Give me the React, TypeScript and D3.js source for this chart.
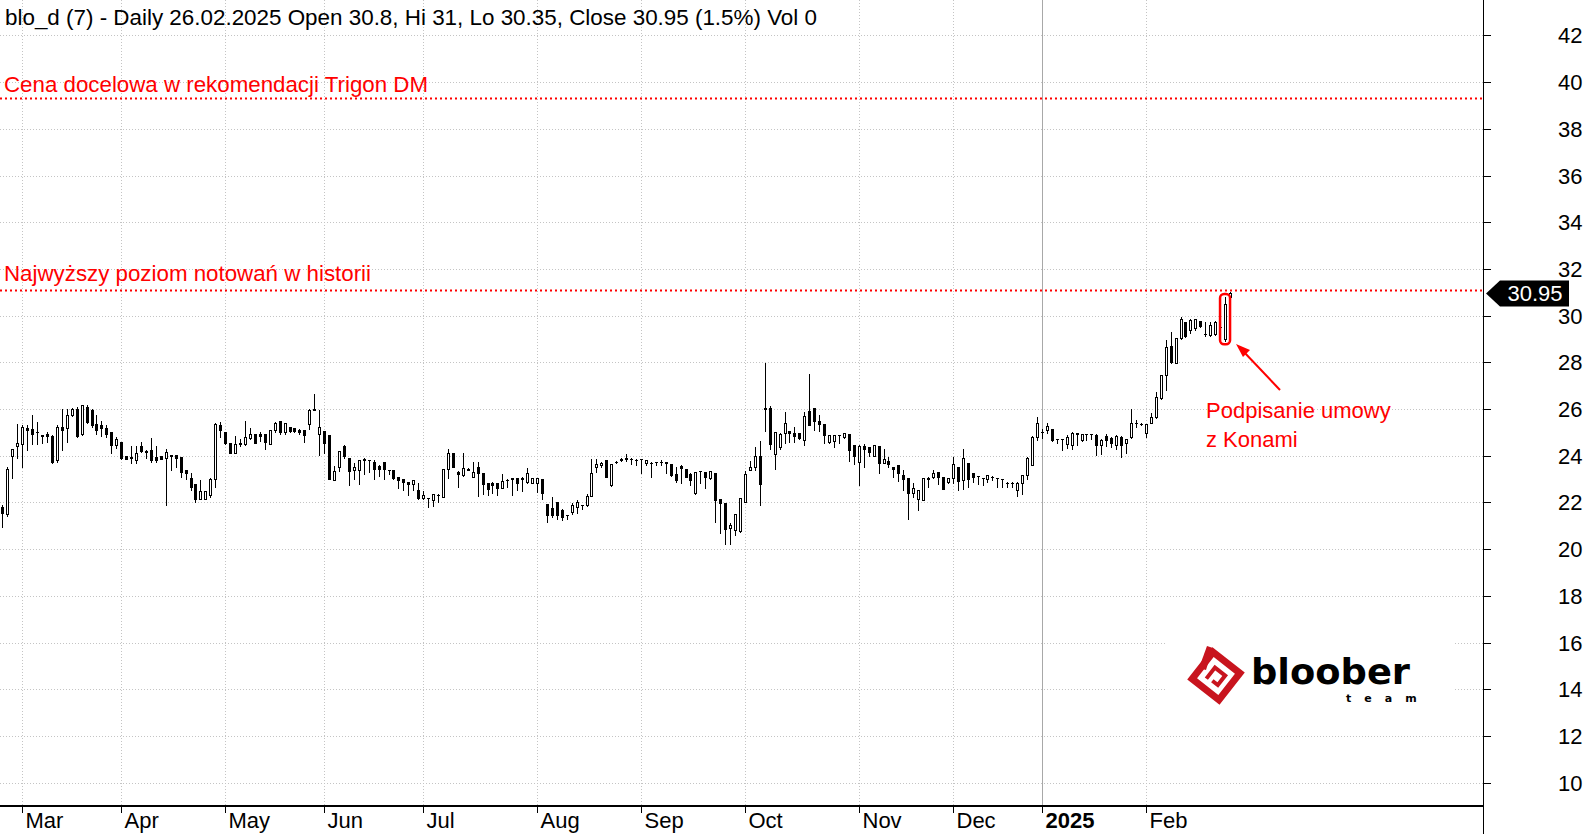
import React from 'react';
import * as d3 from 'd3';

const W = 1585;
const H = 834;

// Daily OHLC, 26.02.2024 .. 26.02.2025 (trading days, index 0..248)
const opens = [
  21.8, 21.5, 24.0, 24.4, 24.5, 25.2, 25.15, 25.0, 24.87, 24.95,
  24.85, 23.8, 25.25, 25.2, 25.75, 26.0, 24.95, 26.1, 25.95, 25.35,
  25.3, 25.2, 25.0, 24.45, 24.6, 24.0, 23.95, 23.8, 24.4, 24.2,
  24.25, 23.95, 23.98, 23.92, 24.05, 24.02, 23.95, 23.38, 23.05, 22.8,
  22.15, 22.15, 22.3, 23.0, 25.3, 25.0, 24.55, 24.1, 24.5, 24.5,
  24.75, 24.95, 24.95, 24.95, 24.5, 25.1, 25.5, 25.0, 25.25, 25.2,
  25.1, 25.1, 25.35, 25.95, 24.95, 25.05, 24.87, 22.95, 23.52, 24.4,
  23.92, 23.4, 23.38, 23.85, 23.8, 23.75, 23.55, 23.75, 23.4, 23.4,
  23.1, 23.0, 22.88, 22.78, 22.55, 22.2, 22.2, 22.1, 22.3, 22.25,
  23.45, 24.1, 23.3, 23.17, 23.42, 23.07, 23.53, 23.24, 22.82, 22.84,
  22.82, 22.63, 22.97, 23.03, 23.03, 23.02, 22.89, 22.82, 22.84, 22.99,
  21.93, 21.74, 22.03, 21.67, 21.47, 21.6, 21.82, 21.9, 21.89, 22.27,
  23.5, 23.6, 23.81, 22.74, 23.72, 23.8, 23.89, 23.86, 23.82, 23.84,
  23.67, 23.7, 23.75, 23.74, 23.72, 23.64, 23.21, 23.56, 23.41, 23.21,
  22.39, 23.36, 23.31, 23.03, 23.24, 22.13, 21.99, 20.89, 20.82, 20.77,
  22.03, 23.39, 23.53, 23.99, 25.98, 26.03, 24.07, 24.39, 24.99, 25.07,
  24.96, 24.96, 24.67, 25.93, 26.03, 25.5, 25.36, 24.6, 24.64, 24.89,
  24.79, 24.93, 24.46, 23.74, 24.42, 24.39, 23.99, 24.42, 23.67, 23.79,
  23.53, 23.6, 23.17, 23.03, 22.42, 22.13, 22.1, 23.03, 23.1, 23.31,
  23.1, 22.89, 23.03, 23.5, 22.96, 23.67, 23.24, 23.14, 23.03, 22.99,
  23.07, 23.03, 22.99, 22.82, 22.82, 22.53, 22.84, 23.17, 23.6, 24.81,
  25.03, 25.1, 25.13, 24.71, 24.7, 24.5, 24.46, 24.96, 24.67, 24.93,
  24.93, 24.89, 24.46, 24.84, 24.74, 24.46, 24.82, 24.53, 24.78, 25.39,
  25.36, 24.99, 25.41, 25.64, 26.46, 27.46, 28.7, 27.99, 29.03, 29.74,
  29.38, 29.45, 29.78, 29.22, 29.18, 29.21, 29.53, 29.0, 30.8,
];
const highs = [
  21.9, 23.5, 24.3, 25.35, 25.3, 25.3, 25.75, 25.45, 24.9, 25.0,
  24.9, 25.3, 26.0, 26.0, 26.05, 26.1, 26.15, 26.15, 26.0, 25.75,
  25.5, 25.3, 25.0, 24.8, 24.6, 24.0, 24.4, 24.4, 24.6, 24.25,
  24.75, 24.4, 24.0, 24.3, 24.05, 24.02, 23.95, 23.4, 23.25, 22.8,
  22.98, 22.5, 23.05, 25.4, 25.45, 25.0, 24.55, 24.85, 24.7, 25.5,
  25.2, 24.95, 25.0, 24.95, 25.1, 25.45, 25.5, 25.4, 25.25, 25.2,
  25.15, 25.1, 26.0, 26.65, 25.97, 25.05, 24.9, 23.55, 24.2, 24.45,
  23.92, 23.67, 23.83, 23.92, 23.83, 23.8, 23.6, 23.75, 23.4, 23.4,
  23.1, 23.0, 22.88, 22.98, 22.85, 22.5, 22.2, 22.38, 22.35, 23.45,
  24.3, 24.1, 23.35, 24.1, 23.46, 23.74, 23.74, 23.24, 22.82, 22.89,
  22.82, 23.2, 23.0, 23.03, 23.03, 23.07, 23.46, 23.03, 23.05, 22.99,
  21.93, 22.22, 22.03, 21.7, 21.47, 21.99, 22.1, 21.9, 22.36, 23.84,
  23.84, 23.74, 23.81, 23.64, 23.78, 23.9, 24.06, 23.89, 23.85, 23.86,
  23.81, 23.74, 23.75, 23.81, 23.74, 23.64, 23.53, 23.6, 23.41, 23.24,
  23.31, 23.36, 23.31, 23.36, 23.24, 22.13, 21.99, 21.1, 21.49, 22.17,
  23.36, 23.79, 24.39, 24.64, 27.98, 26.13, 25.03, 24.96, 25.89, 25.07,
  25.21, 24.96, 25.89, 27.5, 26.03, 25.74, 25.36, 24.89, 24.89, 24.89,
  24.99, 24.93, 24.46, 24.46, 24.5, 24.39, 24.46, 24.42, 24.27, 23.96,
  23.53, 23.6, 23.39, 23.03, 22.84, 22.53, 23.03, 23.1, 23.39, 23.31,
  23.1, 23.03, 23.96, 23.5, 24.27, 23.67, 23.24, 23.14, 23.03, 23.17,
  23.13, 23.03, 22.99, 22.89, 22.89, 22.89, 23.17, 23.96, 24.84, 25.64,
  25.13, 25.39, 25.13, 24.71, 24.72, 24.89, 25.03, 24.96, 24.93, 24.93,
  24.93, 24.93, 24.7, 24.93, 24.82, 24.89, 24.84, 24.7, 25.99, 25.53,
  25.4, 25.36, 25.81, 26.74, 27.46, 28.96, 29.31, 29.03, 29.96, 29.74,
  29.84, 29.84, 29.78, 29.74, 29.74, 29.78, 29.56, 30.8, 31.0,
];
const lows = [
  20.95, 21.4, 23.05, 23.9, 23.5, 24.25, 24.5, 24.5, 24.55, 24.6,
  23.7, 23.75, 24.25, 24.6, 25.7, 24.8, 24.9, 25.4, 25.25, 24.95,
  24.85, 24.8, 24.1, 24.35, 23.85, 23.85, 23.7, 23.7, 24.15, 23.9,
  23.75, 23.75, 23.85, 21.88, 23.4, 23.5, 23.1, 23.0, 22.55, 22.0,
  22.15, 22.15, 22.25, 22.65, 24.8, 24.5, 24.1, 24.1, 24.4, 24.45,
  24.7, 24.55, 24.65, 24.3, 24.5, 25.0, 24.95, 24.95, 25.0, 25.0,
  24.95, 24.6, 25.15, 25.95, 24.02, 24.12, 23.0, 22.95, 23.35, 23.9,
  22.75, 23.0, 22.8, 23.2, 23.3, 23.0, 23.15, 23.0, 23.2, 23.0,
  22.6, 22.52, 22.3, 22.52, 22.15, 22.15, 21.8, 21.85, 22.0, 22.25,
  23.05, 23.5, 22.68, 23.15, 23.38, 23.07, 22.27, 22.36, 22.32, 22.39,
  22.32, 22.63, 22.67, 22.32, 22.53, 22.5, 22.84, 22.82, 22.46, 22.13,
  21.17, 21.39, 21.27, 21.24, 21.27, 21.5, 21.53, 21.7, 21.85, 22.27,
  23.31, 23.53, 23.07, 22.7, 23.68, 23.78, 23.78, 23.64, 23.6, 23.27,
  23.6, 23.1, 23.6, 23.6, 23.27, 23.13, 22.89, 22.84, 23.07, 22.74,
  22.36, 22.82, 22.6, 22.99, 21.17, 20.67, 20.22, 20.22, 20.6, 20.75,
  22.03, 23.39, 23.39, 21.89, 25.07, 24.27, 23.43, 24.27, 24.56, 24.6,
  24.6, 24.7, 24.46, 25.31, 25.1, 25.07, 24.56, 24.56, 24.39, 24.56,
  24.75, 23.79, 23.64, 22.75, 23.53, 23.99, 23.99, 23.27, 23.67, 23.53,
  23.07, 22.93, 22.53, 21.27, 22.24, 21.67, 22.1, 22.67, 23.03, 22.79,
  22.56, 22.82, 22.82, 22.53, 22.56, 22.67, 22.89, 22.79, 22.74, 22.89,
  22.96, 22.64, 22.64, 22.64, 22.67, 22.27, 22.36, 22.99, 23.6, 24.67,
  24.74, 24.96, 24.64, 24.53, 24.24, 24.31, 24.27, 24.46, 24.64, 24.67,
  24.7, 24.03, 24.07, 24.42, 24.39, 24.27, 23.93, 24.13, 24.74, 25.24,
  25.3, 24.82, 25.39, 25.6, 26.41, 26.81, 27.99, 27.96, 28.99, 29.07,
  29.24, 29.38, 29.53, 29.13, 29.13, 29.17, 29.41, 28.9, 30.35,
];
const closes = [
  21.55, 23.45, 24.3, 24.55, 25.25, 25.1, 24.95, 25.0, 24.85, 24.85,
  23.75, 25.25, 25.1, 25.75, 26.0, 24.85, 26.15, 25.45, 25.3, 25.1,
  25.2, 24.95, 24.45, 24.7, 23.9, 23.85, 23.9, 24.1, 24.2, 24.15,
  23.8, 23.82, 23.88, 24.16, 24.0, 23.92, 23.3, 23.25, 22.65, 22.15,
  22.5, 22.5, 23.0, 25.35, 25.1, 24.55, 24.1, 24.5, 24.55, 24.8,
  24.95, 24.55, 24.83, 24.6, 25.1, 25.4, 25.0, 25.4, 25.05, 25.05,
  25.0, 24.9, 25.95, 26.0, 25.25, 24.55, 23.02, 23.35, 24.2, 23.98,
  23.35, 23.5, 23.83, 23.82, 23.8, 23.45, 23.42, 23.42, 23.38, 23.05,
  22.98, 22.88, 22.78, 22.98, 22.2, 22.3, 22.2, 22.35, 22.3, 23.45,
  24.1, 23.5, 23.22, 23.46, 23.4, 23.31, 23.24, 22.79, 22.56, 22.74,
  22.6, 22.92, 22.96, 23.02, 22.84, 23.03, 23.24, 23.03, 23.03, 22.39,
  21.46, 21.46, 21.46, 21.39, 21.45, 21.89, 22.03, 21.89, 22.27, 23.24,
  23.64, 23.7, 23.1, 23.64, 23.75, 23.88, 23.88, 23.85, 23.8, 23.84,
  23.81, 23.7, 23.74, 23.74, 23.7, 23.17, 22.96, 23.46, 23.1, 22.96,
  23.31, 23.35, 23.07, 23.36, 22.1, 21.96, 20.85, 21.03, 21.49, 22.17,
  23.21, 23.53, 23.99, 22.79, 26.03, 24.5, 25.03, 24.93, 25.39, 24.96,
  24.84, 24.74, 25.7, 25.31, 25.5, 25.36, 24.89, 24.89, 24.89, 24.87,
  24.96, 24.24, 23.99, 24.42, 24.27, 24.17, 24.46, 23.7, 23.84, 23.64,
  23.44, 23.27, 22.99, 22.42, 22.6, 22.53, 23.03, 23.0, 23.24, 23.07,
  22.56, 23.03, 23.64, 22.93, 23.89, 22.99, 23.1, 23.13, 23.03, 23.17,
  23.07, 23.03, 22.99, 22.81, 22.82, 22.84, 23.17, 23.89, 24.79, 25.39,
  25.03, 25.27, 24.67, 24.7, 24.7, 24.82, 24.99, 24.95, 24.93, 24.93,
  24.93, 24.46, 24.67, 24.67, 24.53, 24.84, 24.46, 24.7, 25.39, 25.38,
  25.35, 25.36, 25.67, 26.53, 27.46, 28.67, 28.03, 29.03, 29.84, 29.13,
  29.81, 29.84, 29.56, 29.2, 29.6, 29.74, 29.52, 30.5, 30.95,
];

// Month labels and the candle index at which each month starts
const monthLabels = ['Mar', 'Apr', 'May', 'Jun', 'Jul', 'Aug', 'Sep', 'Oct', 'Nov', 'Dec', '2025', 'Feb'];
const monthIndex = [4, 24, 45, 65, 85, 108, 129, 150, 173, 192, 210, 231];
const yTicks = [10, 12, 14, 16, 18, 20, 22, 24, 26, 28, 30, 32, 34, 36, 38, 40, 42];

const targetPrice = 39.3;
const recordPrice = 31.07;
const lastPrice = 30.95;
const highlightIndex = 247;

const titleText = 'blo_d (7) - Daily 26.02.2025 Open 30.8, Hi 31, Lo 30.35, Close 30.95 (1.5%) Vol 0';
const targetLabel = 'Cena docelowa w rekomendacji Trigon DM';
const recordLabel = 'Najwyższy poziom notowań w historii';
const noteLines = ['Podpisanie umowy', 'z Konami'];

const FONT = '"Liberation Sans", Arial, Helvetica, sans-serif';

export default function App() {
  const plotRight = 1483;
  const plotBottom = 806;
  const x = d3.scaleLinear().domain([0, 248]).range([2.4, 2.4 + 4.95 * 248]);
  const y = d3.scaleLinear().domain([10, 42]).range([782.6, 35.4]);

  const candles = opens.map((o, i) => {
    const c = closes[i];
    const hi = highs[i];
    const lo = lows[i];
    const px = Math.round(x(i));
    const top = Math.round(y(Math.max(o, c)));
    const bot = Math.round(y(Math.min(o, c)));
    const up = c >= o;
    const wick = (
      <line key={'w' + i} x1={px + 0.5} x2={px + 0.5} y1={Math.round(y(hi))} y2={Math.round(y(lo)) + 1} stroke="#000" strokeWidth={1} />
    );
    let body;
    if (bot - top < 2) {
      body = <rect key={'b' + i} x={px - 1} y={top} width={3} height={Math.max(1, bot - top + 1)} fill="#000" />;
    } else if (up) {
      body = (
        <rect key={'b' + i} x={px - 0.5} y={top + 0.5} width={2} height={bot - top} fill="#fff" stroke="#000" strokeWidth={1} />
      );
    } else {
      body = <rect key={'b' + i} x={px - 1} y={top} width={3} height={bot - top + 1} fill="#000" />;
    }
    return (
      <g key={i}>
        {wick}
        {body}
      </g>
    );
  });

  const tagY = y(lastPrice);
  const hx = x(highlightIndex);
  const hTop = y(highs[highlightIndex]) - 3;
  const hBot = y(lows[highlightIndex]) + 3;

  return (
    <svg
      width={W}
      height={H}
      style={{ position: 'absolute', left: 0, top: 0, background: '#fff' }}
      fontFamily={FONT}
    >
      <rect x={0} y={0} width={W} height={H} fill="#fff" />
      {/* horizontal grid */}
      {yTicks.map((t) => (
        <line key={'gy' + t} x1={0} x2={plotRight} y1={Math.round(y(t)) + 0.5} y2={Math.round(y(t)) + 0.5} stroke="#c4c4c4" strokeWidth={1} strokeDasharray="1,2" />
      ))}
      {/* vertical grid */}
      {monthIndex.map((mi, k) => {
        const gx = Math.round(x(mi)) + 0.5;
        const isYear = monthLabels[k] === '2025';
        return (
          <line key={'gx' + k} x1={gx} x2={gx} y1={0} y2={plotBottom} stroke={isYear ? '#a8a8a8' : '#c4c4c4'} strokeWidth={1} strokeDasharray={isYear ? undefined : '1,2'} />
        );
      })}

      {/* logo backdrop */}
      <rect x={1166} y={628} width={287} height={84} fill="#fff" />

      {/* red reference lines */}
      <line x1={0} x2={plotRight} y1={y(targetPrice)} y2={y(targetPrice)} stroke="#ff0000" strokeWidth={2} strokeDasharray="2,3" />
      <line x1={0} x2={plotRight} y1={y(recordPrice)} y2={y(recordPrice)} stroke="#ff0000" strokeWidth={2} strokeDasharray="2,3" />
      <text x={4} y={92} fontSize={22} fill="#ff0000" textLength={424} lengthAdjust="spacingAndGlyphs">{targetLabel}</text>
      <text x={4} y={281} fontSize={22} fill="#ff0000" textLength={367} lengthAdjust="spacingAndGlyphs">{recordLabel}</text>

      {/* candles */}
      {candles}

      {/* highlight around the Konami day */}
      <rect x={hx - 5} y={hTop} width={10} height={hBot - hTop} rx={4} ry={4} fill="none" stroke="#ff0000" strokeWidth={2.5} />

      {/* annotation */}
      <line x1={1280} y1={390} x2={1243} y2={351} stroke="#ff0000" strokeWidth={2} />
      <polygon points="1236,344 1250,350 1243,357" fill="#ff0000" />
      {noteLines.map((t, k) => (
        <text key={t} x={1206} y={418 + k * 29} fontSize={22} fill="#ff0000">{t}</text>
      ))}

      {/* logo */}
      <g transform="translate(1216,676) rotate(38)">
        <rect x={-17} y={-17} width={34} height={34} fill="none" stroke="#c8141e" strokeWidth={7} />
        <path d="M -6 8 L -6 -6 L 7 -6 L 7 6 L 0 6" fill="none" stroke="#c8141e" strokeWidth={4} />
      </g>
      <path d="M 1199 668 L 1207 646 L 1213 648 L 1206 670 Z" fill="#c8141e" />
      <text x={1251} y={684} fontSize={36} fontWeight={700} fontFamily='"DejaVu Sans", sans-serif' fill="#000" textLength={159} lengthAdjust="spacingAndGlyphs">bloober</text>
      <text x={1346} y={702} fontSize={11} fontWeight={700} fontFamily='"DejaVu Sans", sans-serif' fill="#000" letterSpacing={13}>team</text>

      {/* right axis */}
      <line x1={plotRight + 0.5} x2={plotRight + 0.5} y1={0} y2={H} stroke="#000" strokeWidth={1} />
      {yTicks.map((t) => (
        <g key={'ty' + t}>
          <line x1={plotRight} x2={plotRight + 8} y1={Math.round(y(t)) + 0.5} y2={Math.round(y(t)) + 0.5} stroke="#000" strokeWidth={1} />
          <text x={1558} y={y(t) + 8} fontSize={22} fill="#000">{t}</text>
        </g>
      ))}

      {/* last price tag */}
      <polygon
        points={`${plotRight + 3},${tagY} ${plotRight + 17},${tagY - 13} 1569,${tagY - 13} 1569,${tagY + 13} ${plotRight + 17},${tagY + 13}`}
        fill="#000"
      />
      <text x={1535} y={tagY + 8} fontSize={22} fill="#fff" textAnchor="middle">{lastPrice.toFixed(2)}</text>

      {/* bottom axis */}
      <line x1={0} x2={plotRight} y1={plotBottom} y2={plotBottom} stroke="#000" strokeWidth={2} />
      {monthIndex.map((mi, k) => {
        const gx = Math.round(x(mi)) + 0.5;
        const isYear = monthLabels[k] === '2025';
        return (
          <g key={'mx' + k}>
            <line x1={gx} x2={gx} y1={plotBottom} y2={plotBottom + 7} stroke="#000" strokeWidth={1} />
            <text x={gx + 3} y={828} fontSize={22} fontWeight={isYear ? 700 : 400} fill="#000">{monthLabels[k]}</text>
          </g>
        );
      })}

      {/* title */}
      <text x={5} y={25} fontSize={22} fill="#000" textLength={812} lengthAdjust="spacingAndGlyphs">{titleText}</text>
    </svg>
  );
}
